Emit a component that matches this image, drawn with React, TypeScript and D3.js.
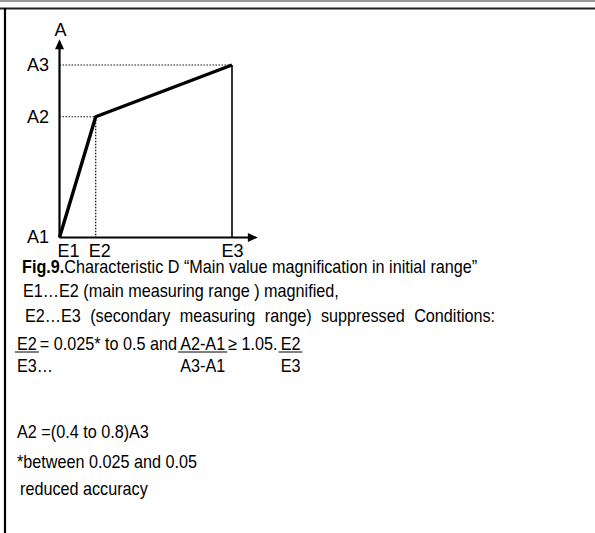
import React from "react";
import * as d3 from "d3";

// Characteristic D: break points of the transfer line (relative to E3 / A3)
const eLabels = ["E1", "E2", "E3"];
const eValues = [0, 0.21, 1];
const aLabels = ["A1", "A2", "A3"];
const aValues = [0, 0.7, 1];

const captionLines = [
  "E1…E2 (main measuring range ) magnified,",
  "E2…E3 (secondary measuring range) suppressed Conditions:",
];
// Condition line: numerator pieces (underlined ones are fraction numerators) and their denominators
const condPieces = ["E2", "= 0.025* to 0.5 and", "A2-A1", "≥ 1.05.", "E2"];
const condUnder = [true, false, true, false, true];
const condDenoms = ["E3…", "", "A3-A1", "", "E3"];
const noteLines = ["A2 =(0.4 to 0.8)A3", "*between 0.025 and 0.05", "reduced accuracy"];

const W = 595;
const H = 533;
const FONT = "'Liberation Sans', Arial, sans-serif";
const FS = 18;
const SX = 0.9;

let measureCtx: CanvasRenderingContext2D | null = null;
function textWidth(s: string): number {
  if (!measureCtx) {
    measureCtx = document.createElement("canvas").getContext("2d");
  }
  if (!measureCtx) return s.length * FS * 0.5;
  measureCtx.font = `${FS}px ${FONT}`;
  return measureCtx.measureText(s).width * SX;
}

type TProps = {
  x: number;
  y: number;
  anchor?: "start" | "middle" | "end";
  sx?: number;
  wordSpacing?: number;
  children: React.ReactNode;
};

// Slightly condensed text run
function T({ x, y, anchor = "start", sx = SX, wordSpacing = 0, children }: TProps) {
  return (
    <g transform={`translate(${x},${y}) scale(${sx},1)`}>
      <text x={0} y={0} fontSize={FS} textAnchor={anchor} style={{ wordSpacing: `${wordSpacing}px` }}>
        {children}
      </text>
    </g>
  );
}

export default function App() {
  const x = d3.scaleLinear().domain([0, 1]).range([59.5, 232]);
  const y = d3.scaleLinear().domain([0, 1]).range([237.5, 65]);
  const axisMax = 1.15;

  const pts: [number, number][] = eValues.map((e, i) => [x(e), y(aValues[i])]);
  const line = d3.line();

  const x0 = x(0);
  const y0 = y(0);
  const xEnd = x(axisMax);
  const yEnd = y(axisMax);

  const eDx = [9, 4, 0.5];
  const aDy = [5.5, 6, 6];

  // flow the condition line piece by piece
  const gap = 3;
  let cursor = 17;
  const condLayout = condPieces.map((p, i) => {
    const w = textWidth(p);
    const start = cursor;
    cursor += w + gap;
    return { text: p, start, w, under: condUnder[i], denom: condDenoms[i] };
  });

  return (
    <svg
      width={W}
      height={H}
      viewBox={`0 0 ${W} ${H}`}
      style={{ position: "absolute", left: 0, top: 0, background: "#fff" }}
      fontFamily={FONT}
    >
      {/* frame */}
      <line x1={0} x2={W} y1={1} y2={1} stroke="#333" strokeWidth={1.2} />
      <line x1={0} x2={W} y1={8.5} y2={8.5} stroke="#222" strokeWidth={2} />
      <line x1={5} x2={5} y1={8} y2={H} stroke="#000" strokeWidth={2.2} />

      {/* guide lines */}
      {[1, 2].map((i) => (
        <line
          key={`h${i}`}
          x1={x0}
          x2={x(eValues[i])}
          y1={y(aValues[i])}
          y2={y(aValues[i])}
          stroke="#000"
          strokeWidth={1.2}
          strokeDasharray="1.4,1.6"
        />
      ))}
      <line
        x1={x(eValues[1])}
        x2={x(eValues[1])}
        y1={y(aValues[1])}
        y2={y0}
        stroke="#000"
        strokeWidth={1.2}
        strokeDasharray="1.4,1.6"
      />
      <line x1={x(eValues[2])} x2={x(eValues[2])} y1={y(aValues[2])} y2={y0} stroke="#000" strokeWidth={1.6} />

      {/* axes */}
      <line x1={x0} x2={x0} y1={y0} y2={yEnd + 8} stroke="#000" strokeWidth={2.2} />
      <line x1={x0} x2={xEnd - 8} y1={y0} y2={y0} stroke="#000" strokeWidth={2.2} />
      <path d={`M${x0},${yEnd} L${x0 - 4.5},${yEnd + 10} L${x0 + 4.5},${yEnd + 10} Z`} fill="#000" />
      <path d={`M${xEnd},${y0} L${xEnd - 10},${y0 - 4.5} L${xEnd - 10},${y0 + 4.5} Z`} fill="#000" />
      <T x={x0 + 1} y={36} anchor="middle" sx={1}>A</T>

      {/* characteristic */}
      <path d={line(pts) || ""} fill="none" stroke="#000" strokeWidth={3.4} strokeLinejoin="round" />

      {aLabels.map((l, i) => (
        <T key={l} x={27} y={y(aValues[i]) + aDy[i]} sx={1}>
          {l}
        </T>
      ))}
      {eLabels.map((l, i) => (
        <T key={l} x={x(eValues[i]) + eDx[i]} y={257} anchor="middle" sx={1}>
          {l}
        </T>
      ))}

      {/* caption */}
      <T x={22} y={273}>
        <tspan fontWeight="bold">Fig.9.</tspan>
        <tspan>Characteristic D “Main value magnification in initial range”</tspan>
      </T>
      <T x={23} y={297}>{captionLines[0]}</T>
      <T x={25} y={322} wordSpacing={5.5}>{captionLines[1]}</T>

      {/* conditions with fractions */}
      {condLayout.map((p, i) => (
        <g key={`c${i}`}>
          <T x={p.start} y={350}>{p.text}</T>
          {p.under && (
            <line x1={p.start - 2} x2={p.start + p.w + 2} y1={352} y2={352} stroke="#000" strokeWidth={1} />
          )}
          {p.denom && (
            <T x={i === 0 ? p.start : p.start + p.w / 2} y={372} anchor={i === 0 ? "start" : "middle"}>
              {p.denom}
            </T>
          )}
        </g>
      ))}

      <T x={17} y={438}>{noteLines[0]}</T>
      <T x={17} y={468}>{noteLines[1]}</T>
      <T x={20} y={495}>{noteLines[2]}</T>
    </svg>
  );
}
